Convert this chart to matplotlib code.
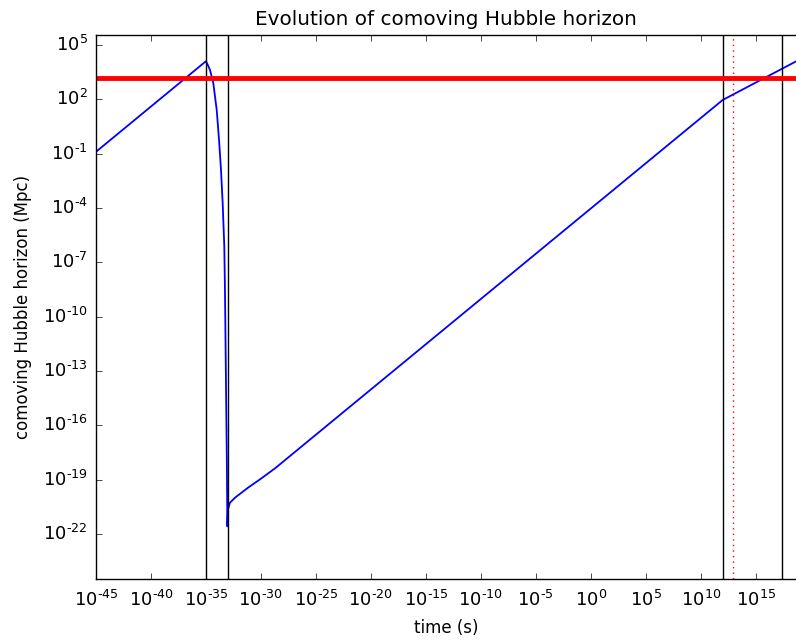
import matplotlib
matplotlib.use('Agg')
import matplotlib.pyplot as plt
import matplotlib.ticker as ticker
import numpy as np

# values, as log10 of time (s) and log10 of horizon (Mpc)
log_t = [-45.0, -35.0, -34.85, -34.63, -34.33, -34.02, -33.81, -33.63, -33.48, -33.33,
         -33.27, -33.18, -33.10, -33.05, -33.0, -32.82, -32.36, -31.18, -30.0, -28.72,
         12.0, 18.7]
log_r = [-0.90, 4.10, 3.92, 3.62, 2.89, 1.41, -0.24, -1.90, -3.72, -6.13,
         -8.52, -13.49, -17.90, -21.58, -20.66, -20.28, -20.00, -19.45, -18.95, -18.38,
         1.96, 4.10]

# epochs marked with vertical lines (log10 s)
epoch_lines = [-35.0, -33.0, 12.0, 17.4]
recomb_line = 12.9
horizon_today = 3.16   # log10 Mpc, red horizontal line

xticks_exp = list(range(-45, 16, 5))
yticks_exp = list(range(5, -23, -3))

t = 10.0 ** np.array(log_t)
r = 10.0 ** np.array(log_r)

plt.style.use('classic')
plt.rcParams['figure.facecolor'] = 'white'
plt.rcParams['savefig.facecolor'] = 'white'
plt.rcParams['axes.unicode_minus'] = False


def exp_label(v, pos):
    k = int(round(np.log10(v)))
    s = str(k).replace('-', '\u2010')
    return r'$\mathdefault{10^{%s}}$' % s


fig = plt.figure(figsize=(7.96, 6.43), dpi=100)
ax = fig.add_axes([0.1206, 0.0992, 0.8794, 0.8464])

ax.plot(t, r, 'b-', lw=1.3)
for e in epoch_lines:
    ax.axvline(10.0 ** e, color='k', lw=1.0)
ax.axvline(10.0 ** recomb_line, color='r', ls=':', lw=1.0)
ax.axhline(10.0 ** horizon_today, color='r', lw=3.5)

ax.set_xscale('log')
ax.set_yscale('log')
ax.set_xlim(1e-45, 10 ** 18.67)
ax.set_ylim(10 ** -24.5, 10 ** 5.55)

ax.xaxis.set_major_locator(ticker.FixedLocator([10.0 ** k for k in xticks_exp]))
ax.yaxis.set_major_locator(ticker.FixedLocator([10.0 ** k for k in yticks_exp]))
ax.xaxis.set_minor_locator(ticker.NullLocator())
ax.yaxis.set_minor_locator(ticker.NullLocator())
ax.xaxis.set_major_formatter(ticker.FuncFormatter(exp_label))
ax.yaxis.set_major_formatter(ticker.FuncFormatter(exp_label))
ax.tick_params(axis='both', labelsize=13)
ax.tick_params(axis='x', pad=8)
ax.tick_params(axis='y', pad=6, right=False)
ax.spines['right'].set_visible(False)

ax.set_xlabel('time (s)', labelpad=6)
ax.set_ylabel('comoving Hubble horizon (Mpc)', labelpad=8)
ax.set_title('Evolution of comoving Hubble horizon', y=1.005)

fig.savefig('out.png', dpi=100)
